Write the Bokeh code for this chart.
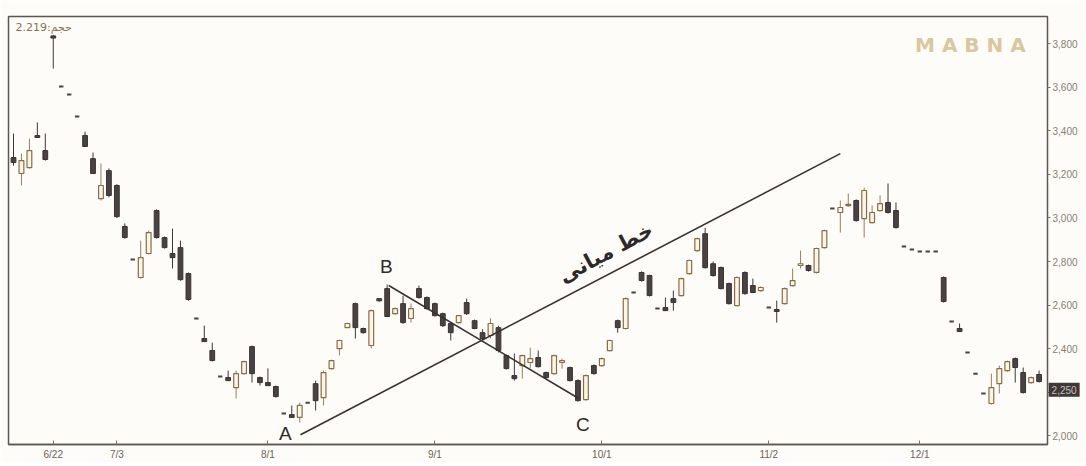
from bokeh.plotting import figure
from bokeh.models import ColumnDataSource, Range1d, FixedTicker, Label, NumeralTickFormatter
from bokeh.embed import file_html
from bokeh.resources import INLINE

# ---------------- data ----------------
opens = [3277, 3204, 3231, 3378, 3309, 3835, 3603, 3566, 3465, 3378,
         3272, 3089, 3217, 3149, 2961, 2809, 2727, 2837, 3034, 2910,
         2837, 2864, 2745, 2539, 2447, 2392, 2273, 2268, 2222, 2286,
         2410, 2268, 2245, 2227, 2103, 2098, 2085, 2153, 2240, 2176,
         2309, 2401, 2497, 2607, 2493, 2415, 2630, 2676, 2561, 2607,
         2539, 2676, 2635, 2607, 2561, 2516, 2520, 2612, 2529, 2474,
         2461, 2497, 2369, 2277, 2323, 2337, 2360, 2291, 2286, 2337,
         2314, 2254, 2167, 2323, 2323, 2392, 2529, 2493, 2658, 2750,
         2736, 2585, 2589, 2630, 2644, 2745, 2850, 2928, 2790, 2773,
         2699, 2598, 2750, 2690, 2667, 2589, 2580, 2607, 2690, 2782,
         2782, 2750, 2864, 3043, 3025, 3057, 3080, 2997, 2979, 3034,
         3071, 3034, 2869, 2855, 2846, 2846, 2846, 2727, 2525, 2493,
         2383, 2286, 2195, 2149, 2240, 2300, 2355, 2291, 2245, 2282]
highs = [3387, 3295, 3364, 3438, 3387, 3840, 3603, 3566, 3465, 3396,
         3300, 3250, 3227, 3155, 2975, 2809, 2896, 2942, 3040, 2915,
         2951, 2896, 2750, 2539, 2506, 2428, 2273, 2300, 2300, 2346,
         2415, 2273, 2310, 2231, 2103, 2140, 2153, 2153, 2254, 2300,
         2350, 2442, 2520, 2612, 2497, 2580, 2630, 2695, 2590, 2644,
         2607, 2690, 2640, 2612, 2566, 2520, 2555, 2630, 2534, 2490,
         2540, 2506, 2373, 2378, 2373, 2405, 2392, 2295, 2373, 2355,
         2318, 2260, 2282, 2328, 2360, 2442, 2534, 2635, 2658, 2755,
         2740, 2585, 2635, 2667, 2727, 2809, 2910, 2955, 2800, 2777,
         2704, 2732, 2755, 2722, 2686, 2589, 2621, 2681, 2768, 2850,
         2786, 2864, 2946, 3043, 3080, 3112, 3085, 3140, 3057, 3103,
         3158, 3071, 2869, 2855, 2846, 2846, 2846, 2732, 2525, 2516,
         2383, 2286, 2195, 2286, 2323, 2346, 2360, 2314, 2273, 2300]
lows = [3240, 3149, 3227, 3369, 3263, 3685, 3603, 3566, 3465, 3328,
        3204, 3080, 3095, 3000, 2905, 2809, 2722, 2832, 2905, 2860,
        2768, 2712, 2620, 2539, 2433, 2342, 2273, 2254, 2172, 2282,
        2245, 2231, 2231, 2176, 2103, 2085, 2062, 2153, 2117, 2140,
        2305, 2369, 2497, 2447, 2470, 2401, 2615, 2545, 2555, 2515,
        2520, 2630, 2580, 2548, 2500, 2438, 2515, 2555, 2490, 2442,
        2447, 2383, 2305, 2254, 2263, 2310, 2314, 2263, 2282, 2309,
        2250, 2158, 2162, 2282, 2318, 2388, 2474, 2488, 2658, 2708,
        2640, 2585, 2575, 2575, 2640, 2740, 2845, 2768, 2731, 2672,
        2603, 2594, 2648, 2655, 2662, 2589, 2520, 2603, 2686, 2768,
        2754, 2745, 2860, 3043, 2933, 3052, 2983, 2910, 2975, 3030,
        3020, 2951, 2869, 2855, 2846, 2846, 2846, 2612, 2525, 2479,
        2383, 2286, 2195, 2144, 2195, 2295, 2245, 2195, 2240, 2245]
closes = [3254, 3263, 3309, 3369, 3268, 3825, 3603, 3566, 3465, 3328,
          3204, 3149, 3103, 3006, 2910, 2809, 2818, 2933, 2910, 2864,
          2818, 2717, 2626, 2539, 2433, 2346, 2273, 2254, 2286, 2341,
          2286, 2245, 2231, 2181, 2103, 2085, 2140, 2153, 2162, 2291,
          2346, 2438, 2516, 2497, 2474, 2575, 2620, 2548, 2584, 2520,
          2584, 2635, 2584, 2552, 2506, 2474, 2552, 2561, 2493, 2447,
          2516, 2392, 2309, 2263, 2369, 2355, 2318, 2268, 2369, 2346,
          2254, 2162, 2277, 2286, 2355, 2438, 2497, 2630, 2658, 2713,
          2644, 2585, 2575, 2612, 2722, 2805, 2905, 2772, 2736, 2676,
          2607, 2727, 2653, 2658, 2681, 2589, 2571, 2676, 2713, 2790,
          2759, 2860, 2942, 3043, 3048, 3062, 2988, 3126, 3025, 3066,
          3025, 2956, 2869, 2855, 2846, 2846, 2846, 2617, 2525, 2479,
          2383, 2286, 2195, 2222, 2309, 2341, 2314, 2199, 2268, 2250]

tick_index = [5, 13, 32, 53, 74, 95, 114]
tick_labels = ["6/22", "7/3", "8/1", "9/1", "10/1", "11/2", "12/1"]
price_ticks = [2000, 2200, 2400, 2600, 2800, 3000, 3200, 3400, 3600, 3800]

# pattern points (A, B, C) and mid-line end
point_names = ["A", "B", "C"]
point_x = [36.1, 47.2, 71.1]
point_y = [2006, 2690, 2172]
midline_end_x = 104.0
midline_end_y = 3295
last_price_label = "2,250"
last_price_level = 2212
top_note = "2.219:حجم"
mid_text = "خط میانی"

# ---------------- split candles ----------------
n = len(opens)
up = {k: [] for k in ["x", "o", "h", "l", "c"]}
dn = {k: [] for k in ["x", "o", "h", "l", "c"]}
flat = {"x": [], "y": []}
for i in range(n):
    o, h, l, c = opens[i], highs[i], lows[i], closes[i]
    if h == l:
        flat["x"].append(i); flat["y"].append(c)
        continue
    d = up if c > o else dn
    d["x"].append(i); d["o"].append(o); d["h"].append(h); d["l"].append(l); d["c"].append(c)

src_up = ColumnDataSource(dict(x=up["x"], top=up["c"], bottom=up["o"], h=up["h"], l=up["l"]))
src_dn = ColumnDataSource(dict(x=dn["x"], top=dn["o"], bottom=dn["c"], h=dn["h"], l=dn["l"]))
src_flat = ColumnDataSource(flat)

p = figure(frame_width=1039, frame_height=428, output_backend="svg", toolbar_location=None,
           x_range=Range1d(-0.63, 130.06), y_range=Range1d(1961, 3924),
           y_axis_location="right", min_border_left=8, min_border_top=16,
           min_border_bottom=0, min_border_right=0)
p.background_fill_color = "#fdfcf9"
p.border_fill_color = "#fdfcf9"
p.outline_line_color = "#5e5650"
p.outline_line_width = 1.5
p.grid.visible = False

wick_up = "#9c7e56"
wick_dn = "#3e3636"
p.segment(x0="x", y0="l", x1="x", y1="h", source=src_up, line_color=wick_up, line_width=1)
p.segment(x0="x", y0="l", x1="x", y1="h", source=src_dn, line_color=wick_dn, line_width=1)
p.vbar(x="x", top="top", bottom="bottom", width=0.6, source=src_up,
       fill_color="#fbf5e6", line_color="#8a6c48", line_width=1.2)
p.vbar(x="x", top="top", bottom="bottom", width=0.6, source=src_dn,
       fill_color="#4a4242", line_color="#3a3232", line_width=1)
p.rect(x="x", y="y", width=0.55, height=2, height_units="screen", source=src_flat,
       fill_color="#4a4242", line_color=None)

# lines
p.line([point_x[0], midline_end_x], [point_y[0], midline_end_y], line_color="#3a3232", line_width=1.6)
p.line([point_x[1], point_x[2]], [point_y[1], point_y[2]], line_color="#3a3232", line_width=1.6)

# point labels
lab_dx = [-1.9, -0.3, 0.5]
lab_dy = [5, 87, -120]
for nm, px, py, dx, dy in zip(point_names, point_x, point_y, lab_dx, lab_dy):
    p.add_layout(Label(x=px + dx, y=py + dy, text=nm, text_font="Liberation Sans",
                       text_font_size="19px", text_color="#2e2828",
                       text_align="center", text_baseline="middle"))

p.add_layout(Label(x=74.5, y=2840, text=mid_text, angle=0.49, text_font="DejaVu Sans",
                   text_font_style="bold", text_font_size="21px", text_color="#2e2828",
                   text_align="center", text_baseline="middle"))

p.add_layout(Label(x=0.25, y=3873, text=top_note, text_font="DejaVu Sans",
                   text_font_size="11px", text_color="#8a7050",
                   text_align="left", text_baseline="middle"))

p.add_layout(Label(x=113.4, y=3791, text="M A B N A", text_font="DejaVu Sans",
                   text_font_style="bold", text_font_size="20px", text_color="#d9c89e",
                   text_align="left", text_baseline="middle"))

# last price box on right axis (placed in the side panel so it is not clipped)
p.add_layout(Label(x=130.2, y=last_price_level, text=last_price_label, text_font="Liberation Sans",
                   text_font_size="10px", text_color="#c8c0b8",
                   background_fill_color="#3e3838", text_align="left",
                   text_baseline="middle", padding=3), "right")

# axes
p.xaxis.ticker = FixedTicker(ticks=tick_index)
p.xaxis.major_label_overrides = {t: s for t, s in zip(tick_index, tick_labels)}
p.xaxis.minor_tick_line_color = None
p.xaxis.major_tick_in = 4
p.xaxis.major_tick_out = 0
p.xaxis.axis_line_color = "#5e5650"
p.xaxis.axis_line_width = 1.5
p.xaxis.major_tick_line_color = "#7a7068"
p.xaxis.major_label_text_font = "Liberation Sans"
p.xaxis.major_label_text_font_size = "10px"
p.xaxis.major_label_text_color = "#6e6258"
p.xaxis.major_label_standoff = 4

p.yaxis.ticker = FixedTicker(ticks=price_ticks)
p.yaxis.formatter = NumeralTickFormatter(format="0,0")
p.yaxis.minor_tick_line_color = None
p.yaxis.major_tick_in = 0
p.yaxis.major_tick_out = 3
p.yaxis.axis_line_color = "#5e5650"
p.yaxis.major_tick_line_color = "#7a7068"
p.yaxis.major_label_text_font = "Liberation Sans"
p.yaxis.major_label_text_font_size = "10px"
p.yaxis.major_label_text_color = "#8a7e70"
p.yaxis.major_label_standoff = 2

open("out.html", "w").write(file_html(p, INLINE))
